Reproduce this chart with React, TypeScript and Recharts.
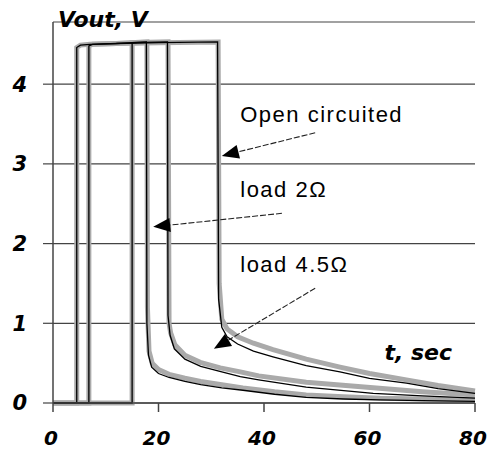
import React from 'react';
import { LineChart, Line, XAxis, YAxis, CartesianGrid, ReferenceLine, ReferenceDot, Label } from 'recharts';

// time (s), Vout (V) — measured (gray) and model (black) for each load
const load2Gray = [[0,0],[4.5,0],[4.5,4.46],[5.2,4.49],[7,4.5],[12,4.51],[17.8,4.53],[17.9,1.2],[18.2,0.65],[18.8,0.5],[20,0.42],[22,0.36],[25,0.31],[28,0.27],[32,0.23],[36,0.19],[42,0.14],[48,0.1],[55,0.08],[62,0.06],[70,0.05],[80,0.04]];
const load2Black = [[0,0],[4.5,0],[4.5,4.46],[5.2,4.49],[7,4.5],[12,4.51],[17.7,4.53],[17.8,1.0],[18.1,0.6],[18.7,0.45],[20,0.37],[22,0.32],[25,0.27],[28,0.23],[32,0.19],[36,0.16],[42,0.11],[48,0.07],[55,0.05],[62,0.04],[70,0.03],[80,0.02]];
const openGray = [[0,0],[6.8,0],[6.8,4.48],[7.5,4.5],[12,4.51],[20,4.52],[31.3,4.53],[31.5,1.5],[32,1.05],[33,0.93],[35,0.83],[38,0.75],[41.7,0.67],[48,0.55],[54.4,0.45],[60,0.37],[67,0.29],[73,0.22],[80,0.15]];
const openBlack = [[0,0],[6.8,0],[6.8,4.48],[7.5,4.5],[12,4.51],[20,4.52],[31.2,4.53],[31.4,1.3],[32,0.95],[33,0.83],[35,0.74],[38,0.65],[41.7,0.58],[48,0.47],[54.4,0.39],[60,0.31],[67,0.25],[73,0.18],[80,0.12]];
const load45Gray = [[0,0],[15,0],[15,4.52],[21.8,4.53],[22,1.0],[22.3,0.88],[23.1,0.73],[25,0.6],[27.9,0.51],[31.7,0.44],[35.5,0.39],[39,0.34],[48,0.26],[60.7,0.19],[70,0.14],[80,0.1]];
const load45Black = [[0,0],[15,0],[15,4.52],[21.7,4.53],[21.8,1.1],[22.2,0.85],[23,0.68],[25,0.55],[28,0.46],[32,0.39],[35.5,0.33],[39,0.29],[48,0.2],[60.7,0.12],[70,0.09],[80,0.06]];

const xTicks = [0, 20, 40, 60, 80];
const yTicks = [0, 1, 2, 3, 4];

const annotations = [
  { text: 'Open circuited', t: 35.5, v: 3.53, from: [49.7, 3.39], to: [32.0, 3.10] },
  { text: 'load 2\u03A9', t: 35.5, v: 2.58, from: [43.4, 2.38], to: [19.0, 2.21] },
  { text: 'load 4.5\u03A9', t: 35.5, v: 1.64, from: [49.7, 1.44], to: [30.5, 0.68] },
];

const toPts = (a: number[][]) => a.map(([t, v]) => ({ t, v }));

const tickStyle = { fontFamily: 'DejaVu Sans', fontWeight: 'bold', fontStyle: 'italic', fontSize: 21, fill: '#000' } as any;
const xTickStyle = { ...tickStyle, fontSize: 20, dx: -2 } as any;

const Arrow = (p: any) => {
  const { x1, y1, x2, y2 } = p;
  const ang = Math.atan2(y2 - y1, x2 - x1);
  const L = 17, W = 7;
  const bx = x2 - L * Math.cos(ang), by = y2 - L * Math.sin(ang);
  const px = -Math.sin(ang) * W, py = Math.cos(ang) * W;
  return (
    <g>
      <line x1={x1} y1={y1} x2={bx} y2={by} stroke="#222" strokeWidth={1.1} strokeDasharray="6 2" />
      <polygon points={`${x2},${y2} ${bx + px},${by + py} ${bx - px},${by - py}`} fill="#000" />
    </g>
  );
};

const textShape = (label: string) => (p: any) => (
  <text x={p.cx} y={p.cy} fontFamily="Liberation Sans, Arial" fontSize={22} letterSpacing={1.5} fill="#000">{label}</text>
);

const YTitle = (p: any) => {
  const vb = p.viewBox || { x: 0, y: 22, width: 53 };
  return <text x={vb.x + vb.width + 5} y={vb.y + 5} style={{ ...tickStyle, fontSize: 22 }}>Vout, V</text>;
};
const XTitle = (p: any) => {
  const vb = p.viewBox || { x: 53, y: 403, width: 422 };
  return <text x={vb.x + vb.width - 23} y={vb.y - 43} textAnchor="end" style={{ ...tickStyle, fontSize: 22 }}>t, sec</text>;
};

export default function App() {
  const series = [
    [load2Gray, load2Black],
    [openGray, openBlack],
    [load45Gray, load45Black],
  ];
  return (
    <div style={{ position: 'absolute', left: 0, top: 0, background: '#fff' }}>
      <LineChart width={488} height={455} margin={{ top: 22, right: 13, bottom: 0, left: 0 }}>
        <CartesianGrid vertical={false} stroke="#444" strokeWidth={1.2} />
        <XAxis dataKey="t" type="number" domain={[0, 80]} ticks={xTicks} height={52}
          axisLine={{ stroke: '#444', strokeWidth: 1.5 }} tickLine={{ stroke: '#444', strokeWidth: 1.5 }}
          tickSize={9} tickMargin={19} tick={xTickStyle} allowDuplicatedCategory={false}>
          <Label content={XTitle} />
        </XAxis>
        <YAxis dataKey="v" type="number" domain={[0, 4.78]} ticks={yTicks} width={53}
          axisLine={{ stroke: '#444', strokeWidth: 1.5 }} tickLine={{ stroke: '#444', strokeWidth: 1.2 }}
          tickSize={10} tickMargin={16} tick={tickStyle}>
          <Label content={YTitle} />
        </YAxis>
        {series.map(([g], i) => (
          <Line key={'g' + i} data={toPts(g)} dataKey="v" type="linear" stroke="#aaaaaa" strokeWidth={5}
            dot={false} isAnimationActive={false} />
        ))}
        {series.map(([, b], i) => (
          <Line key={'b' + i} data={toPts(b)} dataKey="v" type="linear" stroke="#000" strokeWidth={1.3}
            dot={false} isAnimationActive={false} />
        ))}
        {annotations.map((a, i) => (
          <ReferenceLine key={'a' + i} segment={[{ x: a.from[0], y: a.from[1] }, { x: a.to[0], y: a.to[1] }]} shape={Arrow} />
        ))}
        {annotations.map((a, i) => (
          <ReferenceDot key={'t' + i} x={a.t} y={a.v} r={0} shape={textShape(a.text)} />
        ))}
      </LineChart>
    </div>
  );
}
